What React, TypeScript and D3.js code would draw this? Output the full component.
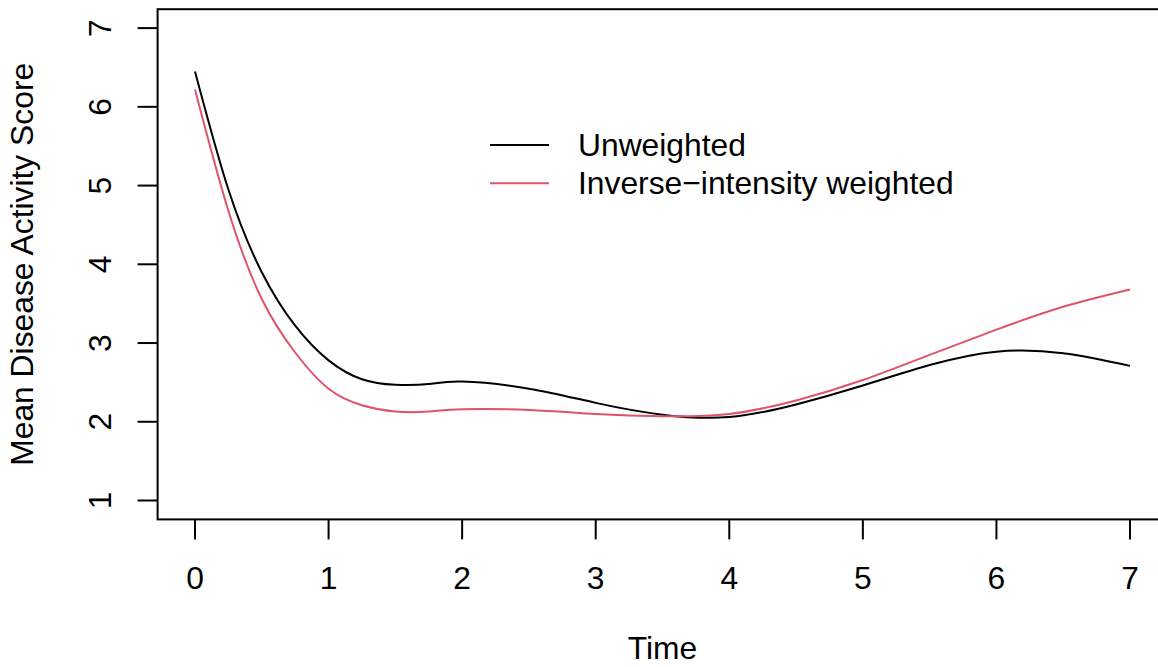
import { useEffect, useRef } from 'react';
import * as d3 from 'd3';

// time grid and the two fitted mean curves
const times = [0, 0.25, 0.5, 0.75, 1, 1.25, 1.5, 1.75, 2, 2.5, 3, 3.5, 4, 4.5, 5, 5.5, 6, 6.5, 7];
const unweighted = [6.45, 4.95, 3.9, 3.22, 2.78, 2.54, 2.47, 2.48, 2.51, 2.42, 2.24, 2.09, 2.06, 2.22, 2.46, 2.72, 2.89, 2.87, 2.71];
const weighted = [6.22, 4.68, 3.56, 2.88, 2.42, 2.21, 2.13, 2.13, 2.16, 2.15, 2.1, 2.07, 2.1, 2.27, 2.53, 2.85, 3.17, 3.46, 3.68];

const xTicks = [0, 1, 2, 3, 4, 5, 6, 7];
const yTicks = [1, 2, 3, 4, 5, 6, 7];
const legendLabels = ['Unweighted', 'Inverse\u2212intensity weighted'];
const colors = ['#000000', '#DF536B'];

const App = () => {
    const ref = useRef(null);

    useEffect(() => {
        const svg = d3.select(ref.current);
        svg.selectAll('*').remove();

        const width = 1158;
        const height = 667;
        const font = '"Liberation Sans", Arial, sans-serif';
        const fs = 31.8;

        // R-style 4% padding around data range
        const x = d3.scaleLinear().domain([-0.28, 7.28]).range([157.6, 1167.4]);
        const y = d3.scaleLinear().domain([0.76, 7.24]).range([519.4, 9.2]);

        svg.attr('width', width).attr('height', height)
            .style('font-family', font);

        svg.append('rect').attr('width', width).attr('height', height).attr('fill', 'white');

        // plot box
        svg.append('rect')
            .attr('x', x(-0.28)).attr('y', y(7.24))
            .attr('width', x(7.28) - x(-0.28))
            .attr('height', y(0.76) - y(7.24))
            .attr('fill', 'none').attr('stroke', 'black').attr('stroke-width', 2);

        // x axis
        const gx = svg.append('g');
        gx.selectAll('line.tick').data(xTicks).join('line')
            .attr('class', 'tick')
            .attr('x1', d => x(d)).attr('x2', d => x(d))
            .attr('y1', y(0.76)).attr('y2', y(0.76) + 20)
            .attr('stroke', 'black').attr('stroke-width', 2);
        gx.selectAll('text').data(xTicks).join('text')
            .attr('x', d => x(d)).attr('y', 589)
            .attr('text-anchor', 'middle')
            .style('font-size', fs + 'px')
            .text(d => d);

        // y axis
        const gy = svg.append('g');
        gy.selectAll('line.tick').data(yTicks).join('line')
            .attr('class', 'tick')
            .attr('x1', x(-0.28) - 20).attr('x2', x(-0.28))
            .attr('y1', d => y(d)).attr('y2', d => y(d))
            .attr('stroke', 'black').attr('stroke-width', 2);
        gy.selectAll('text').data(yTicks).join('text')
            .attr('transform', d => `translate(111,${y(d)}) rotate(-90)`)
            .attr('text-anchor', 'middle')
            .style('font-size', fs + 'px')
            .text(d => d);

        // axis titles
        svg.append('text')
            .attr('x', (x(-0.28) + x(7.28)) / 2).attr('y', 659)
            .attr('text-anchor', 'middle')
            .style('font-size', fs + 'px')
            .text('Time');
        svg.append('text')
            .attr('transform', `translate(33,${(y(0.76) + y(7.24)) / 2}) rotate(-90)`)
            .attr('text-anchor', 'middle')
            .style('font-size', fs + 'px')
            .text('Mean Disease Activity Score');

        // curves
        const line = d3.line<number>()
            .x((_, i) => x(times[i]))
            .y(d => y(d))
            .curve(d3.curveNatural);

        [unweighted, weighted].forEach((s, i) => {
            svg.append('path')
                .attr('d', line(s))
                .attr('fill', 'none')
                .attr('stroke', colors[i])
                .attr('stroke-width', 2);
        });

        // legend
        const lg = svg.append('g');
        legendLabels.forEach((lab, i) => {
            const ly = 145 + i * 38.3;
            lg.append('line')
                .attr('x1', 490).attr('x2', 549)
                .attr('y1', ly).attr('y2', ly)
                .attr('stroke', colors[i]).attr('stroke-width', 2);
            lg.append('text')
                .attr('x', 578).attr('y', ly + 11)
                .style('font-size', fs + 'px')
                .text(lab);
        });
    }, []);

    return (
        <svg ref={ref} style={{ position: 'absolute', left: 0, top: 0 }} />
    );
};

export default App;
